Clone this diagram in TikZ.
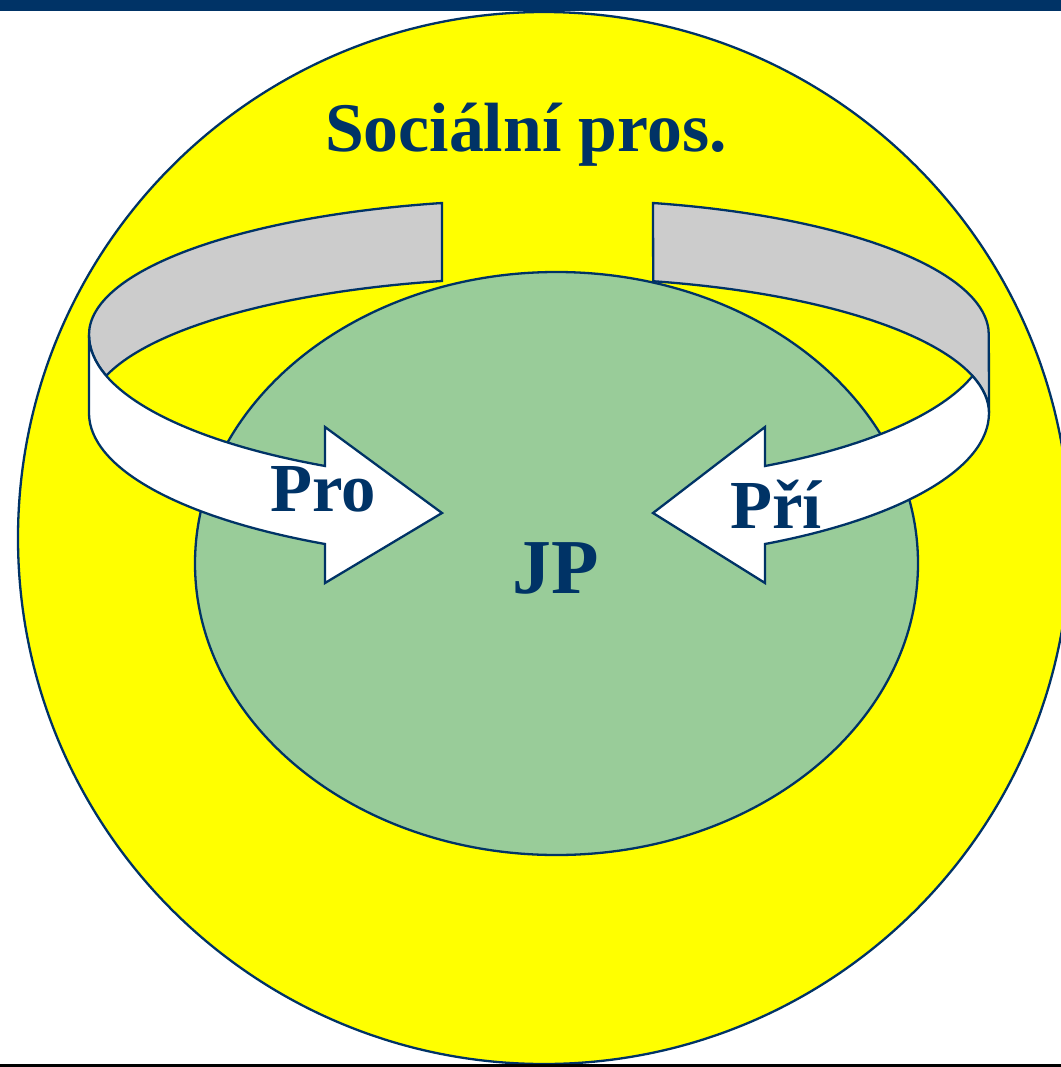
\documentclass[tikz,border=0pt]{standalone}
\usepackage{fontspec}
\setmainfont{Liberation Serif}

\definecolor{navy}{HTML}{003366}
\definecolor{sun}{RGB}{255,255,0}
\definecolor{leaf}{HTML}{99CC99}
\definecolor{band}{HTML}{CCCCCC}

\tikzset{
	outline/.style={draw=navy, line width=2.3bp},
	word/.style={text=navy, anchor=base, inner sep=0pt, font=\bfseries\fontsize{#1}{#1}\selectfont},
}

\begin{document}
\begin{tikzpicture}[x=1bp, y=-1bp]
	\useasboundingbox (0,0) rectangle (1061,1067);
	% outer circle and frame
	\draw[outline, fill=sun] (544,538) circle[radius=526];
	\fill[navy] (0,0) rectangle (1061,11);
	\fill[black] (0,1064) rectangle (1061,1067);
	\draw[outline, fill=leaf] (556.5,563.5) ellipse[x radius=361.5, y radius=291.5];
	
	% left arrow
	\draw[outline, fill=band] (442,203) arc[start angle=257.45, end angle=180, x radius=451, y radius=135]
		arc[start angle=180, end angle=164.06, x radius=451, y radius=149]
		arc[start angle=195.94, end angle=257.45, x radius=451, y radius=135] -- cycle;
	\draw[outline, fill=white] (89,335) arc[start angle=180, end angle=118.47, x radius=451, y radius=149]
		-- (325,427) -- (442,513) -- (325,583) -- (325,544)
		arc[start angle=118.47, end angle=180, x radius=451, y radius=149] -- cycle;
	
	% right arrow
	\draw[outline, fill=band] (653,203) arc[start angle=282.55, end angle=360, x radius=429, y radius=135]
		-- (989,413)
		arc[start angle=0, end angle=-77.45, x radius=429, y radius=135] -- cycle;
	\draw[outline, fill=white] (765,466) arc[start angle=61.45, end angle=15.94, x radius=429, y radius=149]
		arc[start angle=-15.94, end angle=0, x radius=429, y radius=135]
		arc[start angle=0, end angle=61.45, x radius=429, y radius=149]
		-- (765,583) -- (653,513) -- (765,427) -- cycle;
	
	\node[word=70] (social) at (526,151) {Sociální pros.};
	\node[word=78] (jp) at (556,593) {JP};
	\node[word=69] (pro) at (323.5,511) {Pro};
	\node[word=69] (pri) at (776,528) {Pří};
\end{tikzpicture}
\end{document}
